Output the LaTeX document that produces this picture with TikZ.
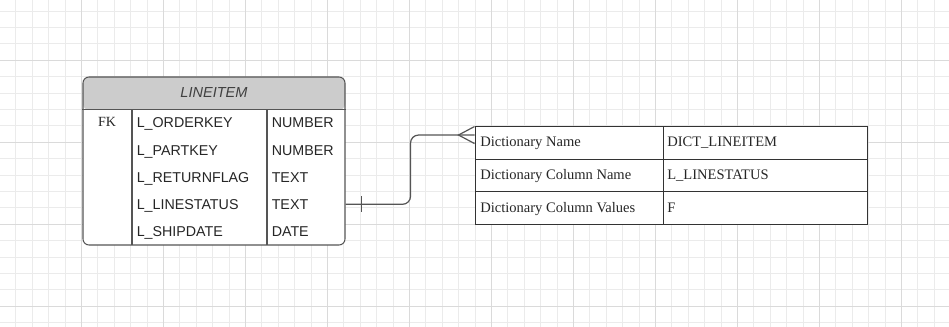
\documentclass[tikz,border=0pt]{standalone}
\usepackage{fontspec}
\setmainfont{Liberation Serif}
\setsansfont{Liberation Sans}
\usepackage{tikz}
\usetikzlibrary{positioning,calc}
\definecolor{gmin}{HTML}{EBEBEB}
\definecolor{gmaj}{HTML}{DADADA}
\definecolor{hdr}{HTML}{CCCCCC}
\definecolor{ln}{HTML}{555555}
\tikzset{
  gl/.style={line width=0.6pt},
  ent/.style={draw=ln,line width=0.8pt,rounded corners=4.5pt,fill=white,inner sep=0pt,minimum width=196.5pt,minimum height=126pt},
  dct/.style={draw=black!80,line width=0.75pt,fill=white,inner sep=0pt,minimum width=294pt,minimum height=73.5pt},
  col/.style={anchor=west,inner sep=0pt,text height=7.7pt,text depth=0pt,text=black!85,font=\sffamily\fontsize{10.7}{12}\selectfont},
  dc/.style={anchor=west,inner sep=0pt,text height=7.2pt,text depth=0pt,text=black!85,font=\fontsize{10.9}{12}\selectfont},
  rel/.style={draw=ln,line width=0.9pt},
}

\begin{document}
\begin{tikzpicture}[x=0.75pt,y=-0.75pt]
  \useasboundingbox (0,0) rectangle (949,327);
  % grid paper behind the diagram
  \fill[white] (0,0) rectangle (949,327);
  \foreach \i in {0,...,58}{\pgfmathsetmacro\gx{-0.7+16.4*\i}\draw[gl,gmin] (\gx,0) -- (\gx,327);}
  \foreach \i in {0,...,21}{\pgfmathsetmacro\gy{-21.7+16.4*\i}\draw[gl,gmin] (0,\gy) -- (949,\gy);}
  \foreach \i in {0,...,11}{\pgfmathsetmacro\gx{-0.7+82*\i}\draw[gl,gmaj] (\gx,0) -- (\gx,327);}
  \foreach \i in {0,...,4}{\pgfmathsetmacro\gy{-21.7+82*\i}\draw[gl,gmaj] (0,\gy) -- (949,\gy);}
  % LINEITEM entity
  \node[ent,path picture={\fill[hdr] (path picture bounding box.north west) rectangle ([yshift=-24.75pt]path picture bounding box.north east);}] (ent) at (214,161){};
  \draw[ln,line width=0.8pt] ([yshift=-24.75pt]ent.north west) -- ([yshift=-24.75pt]ent.north east);
  \foreach \cx in {132,267}{\draw[ln,line width=0.8pt] (\cx,110) -- (\cx,245);}
  \node[font=\sffamily\itshape\fontsize{10.9}{12}\selectfont,text=black!75] (ttl) at (214,93) {LINEITEM};
  \node[text=black!85,font=\fontsize{10.5}{12}\selectfont] (fk) at (107,122) {FK};
  \foreach \y/\f/\t [count=\k] in {122/L\_ORDERKEY/NUMBER,150.5/L\_PARTKEY/NUMBER,177.3/L\_RETURNFLAG/TEXT,204.3/L\_LINESTATUS/TEXT,231.5/L\_SHIPDATE/DATE}{
    \node[col] (f\k) at (136.5,\y) {\f};
    \node[col] (t\k) at (271.5,\y) {\t};
  }
  % dictionary table
  \node[dct] (dict) at (671,176){};
  \draw[black!80,line width=0.75pt] (663,127) -- (663,225);
  \foreach \ry in {159.5,192}{\draw[black!80,line width=0.75pt] (475,\ry) -- (867,\ry);}
  \foreach \y/\a/\b [count=\k] in {141.5/Dictionary Name/DICT\_LINEITEM,174.5/Dictionary Column Name/L\_LINESTATUS,208/Dictionary Column Values/F}{
    \node[dc] (d\k) at (480,\y) {\a};
    \node[dc] (v\k) at (667,\y) {\b};
  }
  % relationship: one LINEITEM row to many dictionary rows
  \coordinate (cf) at ([yshift=-6.4pt]dict.north west);
  \draw[rel,rounded corners=6pt] (ent.east |- f4) -- ++(65,0) |- (cf);
  \draw[rel] ($(cf)+(0,-8.5)$) -- ($(cf)+(-16,0)$) -- ($(cf)+(0,8.5)$);
  \draw[rel] ($(ent.east |- f4)+(16,-8)$) -- ++(0,16);
\end{tikzpicture}
\end{document}
